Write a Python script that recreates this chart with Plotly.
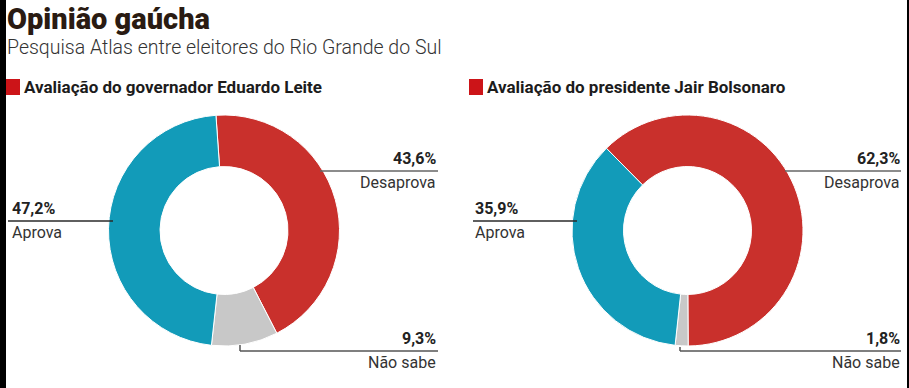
import plotly.graph_objects as go

W, H = 909, 388

# ---- data ----
categories = ["Desaprova", "Não sabe", "Aprova"]
leite_values = [43.6, 9.3, 47.2]
bolsonaro_values = [62.3, 1.8, 35.9]
chart_titles = ["Avaliação do governador Eduardo Leite",
                "Avaliação do presidente Jair Bolsonaro"]
title = "Opinião gaúcha"
subtitle = "Pesquisa Atlas entre eleitores do Rio Grande do Sul"

colors = ["#c9302c", "#c8c8c8", "#129bb9"]
FONT = "Roboto, Liberation Sans, sans-serif"


def px(x):
    return x / W


def py(y):
    return 1 - y / H


def fmt(v):
    return f"{v:.1f}".replace(".", ",") + "%"


fig = go.Figure()

# donut geometry (px): center x, center y, radius, rotation
donuts = [
    (leite_values, 224, 230.5, 115.5, -4),
    (bolsonaro_values, 687.5, 230.5, 115.5, -44.6),
]
for vals, cx, cy, r, rot in donuts:
    fig.add_trace(go.Pie(
        labels=categories, values=vals, sort=False, direction="clockwise",
        rotation=rot, hole=0.554,
        marker=dict(colors=colors, line=dict(color="white", width=1)),
        textinfo="none", hoverinfo="label+percent", showlegend=False,
        domain=dict(x=[px(cx - r), px(cx + r)], y=[py(cy + r), py(cy - r)]),
    ))

annotations = []
shapes = []

# title & subtitle
annotations.append(dict(x=px(5), y=py(18.5), xref="paper", yref="paper",
                        xanchor="left", yanchor="middle", showarrow=False,
                        text=title, font=dict(family=FONT, size=29, color="#2a1b12", weight=900)))
annotations.append(dict(x=px(5), y=py(47.5), xref="paper", yref="paper",
                        xanchor="left", yanchor="middle", showarrow=False,
                        text=subtitle, font=dict(family=FONT, size=19.5, color="#333333", weight=300)))

# section headers
for hx, txt in [(6, chart_titles[0]), (469, chart_titles[1])]:
    shapes.append(dict(type="rect", xref="paper", yref="paper",
                       x0=px(hx), x1=px(hx + 14), y0=py(95), y1=py(79),
                       fillcolor="#cc1418", line=dict(width=0)))
    annotations.append(dict(x=px(hx + 16), y=py(87.5), xref="paper", yref="paper",
                            xanchor="left", yanchor="middle", showarrow=False,
                            text=txt, font=dict(family=FONT, size=17, color="#1c1c1c", weight=700)))

# labels with leader lines
# (chart values, index, line y, line x0, line x1, text x, anchor, elbow x, elbow y, line color)
label_specs = [
    (leite_values, 2, 221, 8, 113, 10, "left", None, None, "#2a2a2a"),
    (leite_values, 0, 171, 320, 438, 438, "right", None, None, "#666666"),
    (leite_values, 1, 351, 240, 438, 438, "right", 240, 345, "#555555"),
    (bolsonaro_values, 2, 221, 473, 577, 473, "left", None, None, "#2a2a2a"),
    (bolsonaro_values, 0, 171, 785, 901, 902, "right", None, None, "#666666"),
    (bolsonaro_values, 1, 351, 680, 901, 902, "right", 680, 347, "#555555"),
]
for vals, i, ly, x0, x1, tx, anc, ex, ey, lc in label_specs:
    shapes.append(dict(type="line", xref="paper", yref="paper",
                       x0=px(x0), x1=px(x1), y0=py(ly), y1=py(ly),
                       line=dict(color=lc, width=1.5)))
    if ex is not None:
        shapes.append(dict(type="line", xref="paper", yref="paper",
                           x0=px(ex), x1=px(ex), y0=py(ey), y1=py(ly),
                           line=dict(color=lc, width=1.5)))
    annotations.append(dict(x=px(tx), y=py(ly - 12.5), xref="paper", yref="paper",
                            xanchor=anc, yanchor="middle", showarrow=False,
                            text=fmt(vals[i]),
                            font=dict(family=FONT, size=16, color="#222222", weight=700)))
    annotations.append(dict(x=px(tx), y=py(ly + 11), xref="paper", yref="paper",
                            xanchor=anc, yanchor="middle", showarrow=False,
                            text=categories[i],
                            font=dict(family=FONT, size=16, color="#333333")))

# frame: black left band and thin right line
shapes.append(dict(type="rect", xref="paper", yref="paper", x0=0, x1=px(6), y0=0, y1=1,
                   fillcolor="black", line=dict(width=0)))
shapes.append(dict(type="rect", xref="paper", yref="paper", x0=px(907), x1=1, y0=0, y1=1,
                   fillcolor="black", line=dict(width=0)))

fig.update_layout(
    width=W, height=H, margin=dict(l=0, r=0, t=0, b=0),
    paper_bgcolor="white", plot_bgcolor="white",
    annotations=annotations, shapes=shapes,
)

fig.write_html("out.html", config={"displayModeBar": False},
               post_script="document.body.style.margin='0';document.body.style.overflow='hidden';")
